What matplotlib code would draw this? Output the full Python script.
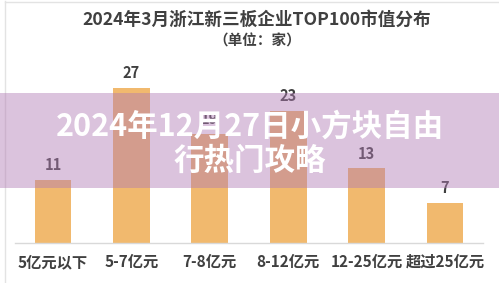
import matplotlib.pyplot as plt
from matplotlib.patches import Rectangle

plt.rcParams['font.family'] = ['Noto Sans CJK SC', 'DejaVu Sans']

categories = ['5亿元以下', '5-7亿元', '7-8亿元', '8-12亿元', '12-25亿元', '超过25亿元']
counts = [11, 27, 19, 23, 13, 7]
title = '2024年3月浙江新三板企业TOP100市值分布'
subtitle = '（单位：家）'
overlay_lines = ['2024年12月27日小方块自由', '行热门攻略']

W, H = 499, 283
fig = plt.figure(figsize=(W / 100, H / 100), dpi=100)
fig.patch.set_facecolor('white')

# axes placed in pixel units: baseline at y=243, x from 15 to 483
ax = fig.add_axes([15 / W, 40 / H, 468 / W, 172 / H])
x = list(range(len(categories)))
ax.bar(x, counts, width=0.47, color='#f1b96e', zorder=2)
for xi, v in zip(x, counts):
    ax.text(xi, v + 1.2, str(v), ha='center', va='bottom', fontsize=10.5,
            fontweight='bold', color='#404040', clip_on=False)

ax.set_xlim(-0.485, 5.485)
ax.set_ylim(0, 30)
ax.set_yticks([])
ax.set_xticks(x)
ax.set_xticklabels(categories, fontsize=11, fontweight='bold', color='#404040')
ax.tick_params(axis='x', length=0, pad=8)
for s in ['top', 'right', 'left']:
    ax.spines[s].set_visible(False)
ax.spines['bottom'].set_color('#d9d9d9')
ax.spines['bottom'].set_linewidth(1)
ax.patch.set_alpha(0)

fig.text(257 / W, 1 - 20 / H, title, ha='center', va='center', fontsize=12.7,
         fontweight='bold', color='#404040')
fig.text(257 / W, 1 - 41 / H, subtitle, ha='center', va='center', fontsize=10.5,
         fontweight='bold', color='#404040')

# faint frame
fig.add_artist(plt.Line2D([5 / W, 5 / W], [0, 1 - 1 / H], color='#e3e3e3', lw=1))
fig.add_artist(plt.Line2D([5 / W, 1], [1 - 1.5 / H, 1 - 1.5 / H], color='#e3e3e3', lw=1))

# overlay band with headline
fig.add_artist(Rectangle((0, 1 - 188 / H), 1, 95 / H, transform=fig.transFigure,
                         facecolor='#b07ab4', alpha=0.45, edgecolor='none', zorder=5))
for line, yp in zip(overlay_lines, [127, 161]):
    fig.text(250 / W, 1 - yp / H, line, ha='center', va='center', fontsize=22,
             fontweight='bold', color='white', zorder=6)

fig.savefig('out.png', dpi=100)
